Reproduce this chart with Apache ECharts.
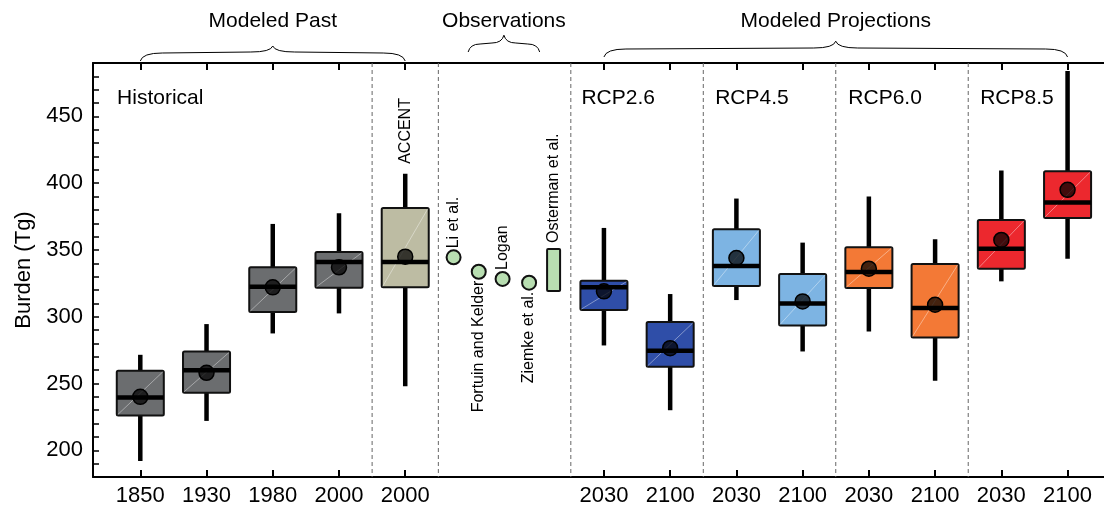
<!DOCTYPE html>
<html>
<head>
<meta charset="utf-8">
<script src="https://cdn.jsdelivr.net/npm/echarts@6/dist/echarts.min.js"></script>
<style>
html, body { margin: 0; padding: 0; background: #fff; }
#chart-panel { width: 1104px; height: 506px; }
</style>
</head>
<body>
<div id="chart-panel"></div>
<script>
var FONT = '"Liberation Sans", Arial, Helvetica, sans-serif';

// x slots and their labels
var tickPos = [0, 1, 2, 3, 4, 7, 8, 9, 10, 11, 12, 13, 14];
var tickLabels = ['1850', '1930', '1980', '2000', '2000', '2030', '2100', '2030', '2100', '2030', '2100', '2030', '2100'];
var yLabelValues = [200, 250, 300, 350, 400, 450];
var yTickValues = [190, 200, 210, 220, 230, 240, 250, 260, 270, 280, 290, 300, 310, 320, 330, 340,
    350, 360, 370, 380, 390, 400, 410, 420, 430, 440, 450, 460, 470, 480];

// box statistics (Tg)
var whiskerLow = [192, 222, 287.5, 302.5, 248, 278.5, 230, 312.5, 274, 289, 252, 326.5, 343.5];
var quart1 = [226, 243, 303.5, 321.7, 322, 305, 262.5, 323, 293.5, 321.5, 284.5, 336, 374];
var medians = [239.5, 260, 322.5, 341, 341, 322, 274.5, 338, 310, 333.5, 306.5, 351, 385.5];
var quart3 = [259.5, 274, 337, 348.5, 381.5, 327, 296, 365.5, 332, 352, 339.5, 372.5, 409];
var whiskerHigh = [271.5, 294.5, 369.5, 377.5, 407, 366.5, 317, 388.5, 355.5, 390, 358, 409.5, 484];
var means = [240, 258, 322, 337, 345, 319, 276.5, 344, 311.5, 336, 309, 357.5, 395];
var boxColors = ['#6b6d6f', '#6b6d6f', '#6b6d6f', '#6b6d6f', '#bdbca3', '#2f4ea8', '#2f4ea8',
    '#7db4e3', '#7db4e3', '#f37936', '#f37936', '#ec282e', '#ec282e'];

// observations
var obsNames = ['Li et al.', 'Fortuin and Kelder', 'Logan', 'Ziemke et al.'];
var obsX = [4.73, 5.11, 5.47, 5.87];
var obsValues = [344.5, 333.7, 328.3, 325.5];
var obsLabelUp = [true, false, true, false];
var ostermanX = 6.24;
var ostermanRange = [319.3, 350.8];

// panels and groups
var separators = [3.5, 4.5, 6.5, 8.5, 10.5, 12.5];
var panelNames = ['Historical', 'RCP2.6', 'RCP4.5', 'RCP6.0', 'RCP8.5'];
var panelX = [-0.35, 6.66, 8.68, 10.69, 12.68];
var groupNames = ['Modeled Past', 'Observations', 'Modeled Projections'];
var groupFrom = [0, 4.95, 7];
var groupTo = [4, 6.03, 14];
var groupLift = [0, 9, 4];

var Y_MIN = 180, Y_MAX = 490;
var OBS_GREEN = '#b8deb1';

function vtext(x, y, str, align) {
    return {
        type: 'text', x: x, y: y, rotation: Math.PI / 2,
        style: { text: str, fontSize: 16, fontFamily: FONT, fill: '#000', align: align, verticalAlign: 'middle' }
    };
}

function renderBox(params, api) {
    var i = params.dataIndex;
    var x = api.value(0);
    var lo = api.coord([x, api.value(1)]);
    var q1 = api.coord([x, api.value(2)]);
    var md = api.coord([x, api.value(3)]);
    var q3 = api.coord([x, api.value(4)]);
    var hi = api.coord([x, api.value(5)]);
    var mn = api.coord([x, api.value(6)]);
    var w = api.size([0.71, 0])[0];
    var cx = lo[0];
    var kids = [
        { type: 'line', shape: { x1: cx, y1: hi[1], x2: cx, y2: lo[1] }, style: { stroke: '#000', lineWidth: 4.5 } },
        { type: 'rect', shape: { x: cx - w / 2, y: q3[1], width: w, height: q1[1] - q3[1], r: 1.5 },
          style: { fill: boxColors[i], stroke: '#111', lineWidth: 2 } },
        { type: 'line', shape: { x1: cx - w / 2 + 1, y1: q1[1] - 1, x2: cx + w / 2 - 1, y2: q3[1] + 1 },
          style: { stroke: 'rgba(255,255,255,0.4)', lineWidth: 1 } },
        { type: 'line', shape: { x1: cx - w / 2, y1: md[1], x2: cx + w / 2, y2: md[1] }, style: { stroke: '#000', lineWidth: 4.5 } },
        { type: 'circle', shape: { cx: cx, cy: mn[1], r: 7.5 }, style: { fill: 'rgba(0,0,0,0.72)', stroke: '#000', lineWidth: 1.5 } }
    ];
    if (i === 4) kids.push(vtext(cx, hi[1] - 10, 'ACCENT', 'left'));
    return { type: 'group', children: kids };
}

function renderObs(params, api) {
    var i = params.dataIndex;
    var p = api.coord([api.value(0), api.value(1)]);
    var up = obsLabelUp[i];
    return {
        type: 'group',
        children: [
            { type: 'circle', shape: { cx: p[0], cy: p[1], r: 7 }, style: { fill: OBS_GREEN, stroke: '#111', lineWidth: 2 } },
            vtext(p[0], up ? p[1] - 9 : p[1] + 9, obsNames[i], up ? 'left' : 'right')
        ]
    };
}

function renderOsterman(params, api) {
    var lo = api.coord([api.value(0), api.value(1)]);
    var hi = api.coord([api.value(0), api.value(2)]);
    var w = 13;
    return {
        type: 'group',
        children: [
            { type: 'rect', shape: { x: lo[0] - w / 2, y: hi[1], width: w, height: lo[1] - hi[1], r: 1 },
              style: { fill: OBS_GREEN, stroke: '#111', lineWidth: 2 } },
            vtext(lo[0], hi[1] - 6, 'Osterman et al.', 'left')
        ]
    };
}

function renderSeparator(params, api) {
    var a = api.coord([api.value(0), Y_MAX]);
    var b = api.coord([api.value(0), Y_MIN]);
    return { type: 'line', shape: { x1: a[0], y1: a[1], x2: b[0], y2: b[1] },
        style: { stroke: '#666', lineWidth: 1, lineDash: [4, 3] } };
}

function renderPanel(params, api) {
    var p = api.coord([api.value(0), 464]);
    return { type: 'text', x: p[0], y: p[1],
        style: { text: panelNames[params.dataIndex], fontSize: 21, fontFamily: FONT, fill: '#000', align: 'left', verticalAlign: 'middle' } };
}

function renderGroup(params, api) {
    var i = params.dataIndex;
    var a = api.coord([api.value(0), Y_MAX]);
    var b = api.coord([api.value(1), Y_MAX]);
    var x0 = a[0], x1 = b[0], xm = (x0 + x1) / 2;
    var lift = groupLift[i];
    var yE = a[1] - 2 - lift, yF = a[1] - 10 - lift, yT = a[1] - 17 - lift * 1.2;
    var h = Math.min(22, (xm - x0) / 3);
    var d = 'M' + x0 + ' ' + yE + ' Q' + (x0 + 2) + ' ' + yF + ' ' + (x0 + h) + ' ' + yF +
        ' L' + (xm - h) + ' ' + (yF - 1) + ' Q' + (xm - 2) + ' ' + (yF - 1) + ' ' + xm + ' ' + yT +
        ' Q' + (xm + 2) + ' ' + (yF - 1) + ' ' + (xm + h) + ' ' + (yF - 1) +
        ' L' + (x1 - h) + ' ' + yF + ' Q' + (x1 - 2) + ' ' + yF + ' ' + x1 + ' ' + yE;
    return {
        type: 'group',
        children: [
            { type: 'path', shape: { pathData: d }, style: { fill: null, stroke: '#000', lineWidth: 1 } },
            { type: 'text', x: xm, y: 21,
              style: { text: groupNames[i], fontSize: 21, fontFamily: FONT, fill: '#000', align: 'center', verticalAlign: 'middle' } }
        ]
    };
}

var boxData = tickPos.map(function (x, i) {
    return [x, whiskerLow[i], quart1[i], medians[i], quart3[i], whiskerHigh[i], means[i]];
});
var obsData = obsX.map(function (x, i) { return [x, obsValues[i]]; });

var xAxisBase = {
    type: 'value', min: -0.714, max: 14.55,
    axisLine: { onZero: false, lineStyle: { color: '#000', width: 2 } },
    axisTick: { inside: true, length: 7, customValues: tickPos, lineStyle: { color: '#000', width: 2 } },
    splitLine: { show: false }
};

var option = {
    animation: false,
    grid: { left: 93, right: 0, top: 63, bottom: 29, outerBoundsMode: 'none' },
    xAxis: [
        Object.assign({}, xAxisBase, {
            position: 'bottom',
            axisLabel: {
                customValues: tickPos, margin: 8, fontSize: 22, color: '#000', fontFamily: FONT,
                formatter: function (v) { return tickLabels[tickPos.indexOf(v)]; }
            }
        }),
        Object.assign({}, xAxisBase, { position: 'top', axisLabel: { show: false } })
    ],
    yAxis: {
        type: 'value', min: Y_MIN, max: Y_MAX,
        name: 'Burden (Tg)', nameLocation: 'middle', nameGap: 53,
        nameTextStyle: { fontSize: 22, color: '#000', fontFamily: FONT },
        axisLine: { show: true, onZero: false, lineStyle: { color: '#000', width: 2 } },
        axisTick: { inside: true, length: 6, customValues: yTickValues, lineStyle: { color: '#000', width: 1.5 } },
        axisLabel: { customValues: yLabelValues, margin: 10, fontSize: 22, color: '#000', fontFamily: FONT },
        splitLine: { show: false }
    },
    series: [
        { type: 'custom', name: 'separators', renderItem: renderSeparator, data: separators.map(function (x) { return [x]; }), z: 1 },
        { type: 'custom', name: 'panels', renderItem: renderPanel, data: panelX.map(function (x) { return [x]; }), z: 2 },
        { type: 'custom', name: 'groups', renderItem: renderGroup, clip: false,
          data: groupFrom.map(function (x, i) { return [x, groupTo[i]]; }), z: 2 },
        { type: 'custom', name: 'models', renderItem: renderBox, data: boxData, z: 5 },
        { type: 'custom', name: 'observations', renderItem: renderObs, data: obsData, z: 5 },
        { type: 'custom', name: 'Osterman', renderItem: renderOsterman,
          data: [[ostermanX, ostermanRange[0], ostermanRange[1]]], z: 5 }
    ]
};

var chart = echarts.init(document.getElementById('chart-panel'));
chart.setOption(option);
</script>
</body>
</html>
